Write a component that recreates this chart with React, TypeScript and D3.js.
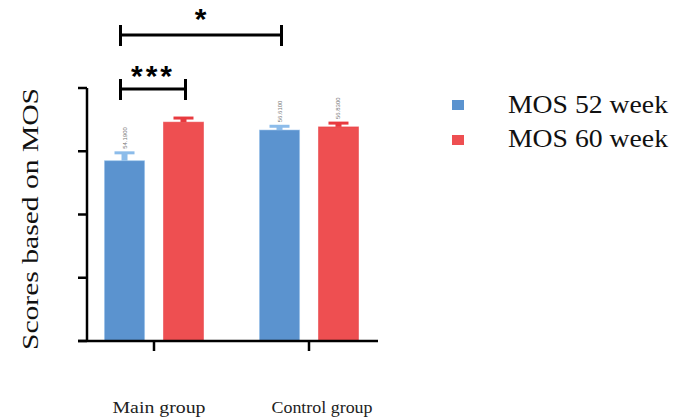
import React from 'react';
import * as d3 from 'd3';

const groups = ['Main group', 'Control group'];
const series = ['MOS 52 week', 'MOS 60 week'];
const colors = ['#5b93cf', '#ee4f51'];
const capColors = ['#8cbcea', '#e83a3f'];
// values, one array per series
const week52 = [57.0, 66.7];
const week60 = [69.2, 67.7];
const err52 = [2.5, 1.2];
const err60 = [1.3, 1.2];
const valueLabels52 = ['54.1900', '56.6100'];
const valueLabels60 = ['', '56.8300'];
const yTicks = [0, 20, 40, 60, 80];

const serif = 'Times New Roman, Times, Liberation Serif, DejaVu Serif, serif';
const sans = 'Liberation Sans, Arial, sans-serif';

const App = () => {
  const width = 673;
  const height = 418;

  const y = d3.scaleLinear().domain([0, 80]).range([341, 88]);
  const x0 = d3.scaleBand().domain(groups).range([76.5, 386.5]);
  const x1 = d3.scaleBand().domain(series).range([0, x0.bandwidth()])
    .paddingInner(0.322).paddingOuter(0.475);

  const bars = groups.flatMap((g, i) => [
    { g, s: series[0], v: week52[i], e: err52[i], lbl: valueLabels52[i], k: 0 },
    { g, s: series[1], v: week60[i], e: err60[i], lbl: valueLabels60[i], k: 1 },
  ]);

  const cx = (d) => x0(d.g) + x1(d.s) + x1.bandwidth() / 2;

  // significance brackets between bars
  const brackets = [
    { a: bars[0], b: bars[2], yy: 35, text: '*', ty: 29, dx: 1 },
    { a: bars[0], b: bars[1], yy: 89, text: '***', ty: 86, dx: 0 },
  ];
  const catWidths = [93, 101];

  return (
    <svg width={width} height={height} style={{ position: 'absolute', left: 0, top: 0, background: '#fff' }}>
      {/* bars */}
      {bars.map((d, i) => (
        <g key={i}>
          <rect x={x0(d.g) + x1(d.s)} y={y(d.v)} width={x1.bandwidth()} height={y(0) - y(d.v)}
            fill={colors[d.k]} stroke={capColors[d.k]} strokeOpacity={0.5} strokeWidth={1} />
          <line x1={cx(d)} x2={cx(d)} y1={y(d.v)} y2={y(d.v + d.e)} stroke={capColors[d.k]} strokeWidth={6} />
          <line x1={cx(d) - 10} x2={cx(d) + 10} y1={y(d.v + d.e)} y2={y(d.v + d.e)} stroke={capColors[d.k]} strokeWidth={3} />
          {d.lbl && (
            <text transform={`translate(${cx(d) + 2},${y(d.v + d.e) - 4}) rotate(-90)`}
              fontFamily={sans} fontSize={6} fill="#777">{d.lbl}</text>
          )}
        </g>
      ))}

      {/* y axis */}
      <line x1={87} x2={87} y1={y(80)} y2={y(0)} stroke="#000" strokeWidth={2.5} />
      {yTicks.map((t) => (
        <line key={t} x1={78} x2={87} y1={y(t)} y2={y(t)} stroke="#000" strokeWidth={2.5} />
      ))}
      {/* x axis */}
      <line x1={78} x2={378} y1={y(0)} y2={y(0)} stroke="#000" strokeWidth={2.5} />
      {groups.map((g, i) => (
        <g key={g}>
          <line x1={x0(g) + x0.bandwidth() / 2} x2={x0(g) + x0.bandwidth() / 2} y1={y(0)} y2={y(0) + 10}
            stroke="#000" strokeWidth={2.5} />
          <text x={x0(g) + x0.bandwidth() / 2 + 5 + i * 8} y={413} textAnchor="middle" fontFamily={serif}
            fontSize={16} textLength={catWidths[i]} lengthAdjust="spacingAndGlyphs" fill="#222">{g}</text>
        </g>
      ))}

      <text transform={`translate(38,219) rotate(-90)`} textAnchor="middle"
        fontFamily={serif} fontSize={24} textLength={262} lengthAdjust="spacingAndGlyphs"
        fill="#111">Scores based on MOS</text>

      {/* significance */}
      {brackets.map((b, i) => {
        const xa = cx(b.a) - 4;
        const xb = cx(b.b) + 2;
        return (
          <g key={i}>
            <line x1={xa} x2={xb} y1={b.yy} y2={b.yy} stroke="#000" strokeWidth={3} />
            <line x1={xa} x2={xa} y1={b.yy - 10} y2={b.yy + 11} stroke="#000" strokeWidth={3} />
            <line x1={xb} x2={xb} y1={b.yy - 10} y2={b.yy + 11} stroke="#000" strokeWidth={3} />
            <text x={(xa + xb) / 2 + b.dx} y={b.ty} textAnchor="middle"
              fontFamily={sans} fontWeight="bold" fontSize={30}
              letterSpacing={3} fill="#000">{b.text}</text>
          </g>
        );
      })}

      {/* legend */}
      {series.map((s, i) => (
        <g key={s}>
          <rect x={452} y={100 + i * 35} width={12} height={10} fill={colors[i]} />
          <text x={508} y={113 + i * 34} fontFamily={serif} fontSize={26}
            textLength={160} lengthAdjust="spacingAndGlyphs" fill="#111">{s}</text>
        </g>
      ))}
    </svg>
  );
};

export default App;
